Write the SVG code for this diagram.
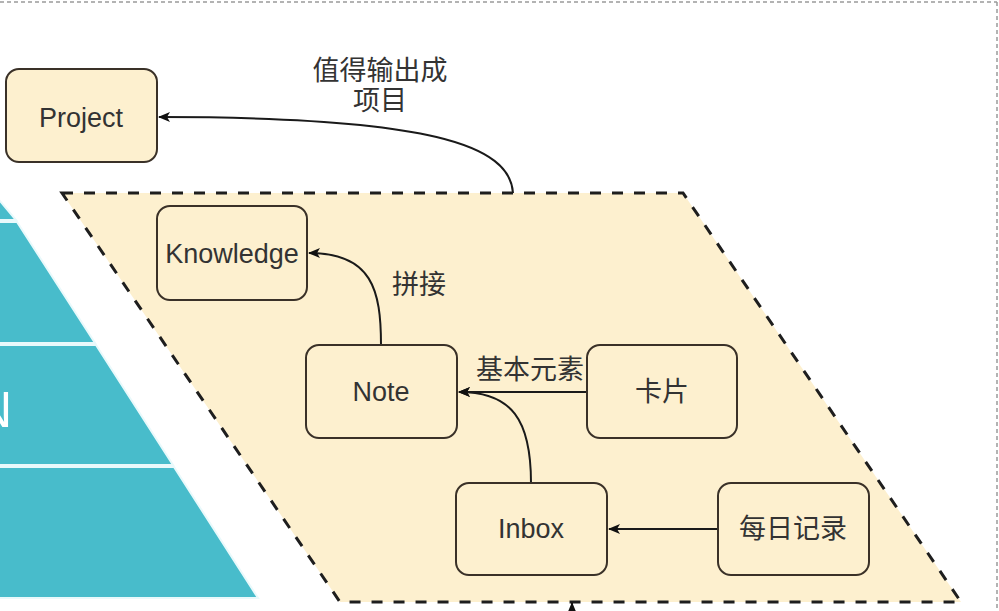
<svg xmlns="http://www.w3.org/2000/svg" width="999" height="611" viewBox="0 0 999 611">
  <defs>
    <style>
      .node rect { fill: #fdf0cf; stroke: #3a3128; stroke-width: 2; }
      .lbl { font-family: "Liberation Sans", "Noto Sans CJK SC", Arial, sans-serif; font-size: 27px; fill: #333333; text-anchor: middle; }
      .edge { fill: none; stroke: #1a1a1a; stroke-width: 2; }
      .band { fill: #48bccb; stroke: #e9f9fb; stroke-width: 2; }
    </style>
    <marker id="arr" viewBox="0 0 12 10" refX="11" refY="5" markerWidth="12" markerHeight="10" markerUnits="userSpaceOnUse" orient="auto">
      <path d="M0,0 L12,5 L0,10 L3,5 Z" fill="#111111"/>
    </marker>
  </defs>

  <rect x="0" y="0" width="999" height="611" fill="#ffffff"/>

  <!-- outer dashed frame -->
  <g id="frame" fill="none" stroke="#9a9a9a" stroke-width="1.5" stroke-dasharray="4 3">
    <line x1="0" y1="2" x2="997" y2="2"/>
    <line x1="997" y1="2" x2="997" y2="611"/>
  </g>

  <!-- pyramid on the left -->
  <g id="pyramid">
    <polygon class="band" points="-5,195 16,220 -5,220"/>
    <polygon class="band" points="-5,222 17,222 95,343 -5,343"/>
    <polygon class="band" points="-5,345 96,345 173,465 -5,465"/>
    <polygon class="band" points="-5,467 174,467 258,598 -5,598"/>
    <text x="12" y="427" font-family="Liberation Sans, sans-serif" font-size="50" fill="#ffffff" text-anchor="end">N</text>
  </g>

  <!-- dashed parallelogram container -->
  <g id="container">
    <polygon points="62,193 683,193 961,602 340,602" fill="#fdf0cf" stroke="#1e1e1e" stroke-width="3" stroke-dasharray="11 11"/>
  </g>

  <!-- connectors -->
  <g id="connectors">
    <path class="edge" d="M513,193 C510,145 430,117 159,117" marker-end="url(#arr)"/>
    <path class="edge" d="M381,345 C381,290 372,253 309,253" marker-end="url(#arr)"/>
    <path class="edge" d="M587,392 L459,392" marker-end="url(#arr)"/>
    <path class="edge" d="M531,483 C531,420 512,392 459,392" marker-end="url(#arr)"/>
    <path class="edge" d="M718,529 L609,529" marker-end="url(#arr)"/>
    <path class="edge" d="M572,615 L572,603" marker-end="url(#arr)"/>
  </g>

  <!-- edge labels -->
  <g id="edge-labels">
    <text class="lbl" x="380" y="80">值得输出成</text>
    <text class="lbl" x="380" y="110">项目</text>
    <text class="lbl" x="419" y="294">拼接</text>
    <text class="lbl" x="530" y="379">基本元素</text>
  </g>

  <!-- nodes -->
  <g id="node-project" class="node">
    <rect x="6" y="69" width="151" height="93" rx="13"/>
    <text class="lbl" x="81" y="127">Project</text>
  </g>
  <g id="node-knowledge" class="node">
    <rect x="157" y="206" width="150" height="94" rx="13"/>
    <text class="lbl" x="232" y="263">Knowledge</text>
  </g>
  <g id="node-note" class="node">
    <rect x="306" y="345" width="151" height="93" rx="13"/>
    <text class="lbl" x="381" y="401">Note</text>
  </g>
  <g id="node-card" class="node">
    <rect x="587" y="345" width="150" height="93" rx="13"/>
    <text class="lbl" x="662" y="401">卡片</text>
  </g>
  <g id="node-inbox" class="node">
    <rect x="456" y="483" width="151" height="92" rx="13"/>
    <text class="lbl" x="531" y="538">Inbox</text>
  </g>
  <g id="node-daily" class="node">
    <rect x="718" y="483" width="151" height="92" rx="13"/>
    <text class="lbl" x="793" y="538">每日记录</text>
  </g>
</svg>
